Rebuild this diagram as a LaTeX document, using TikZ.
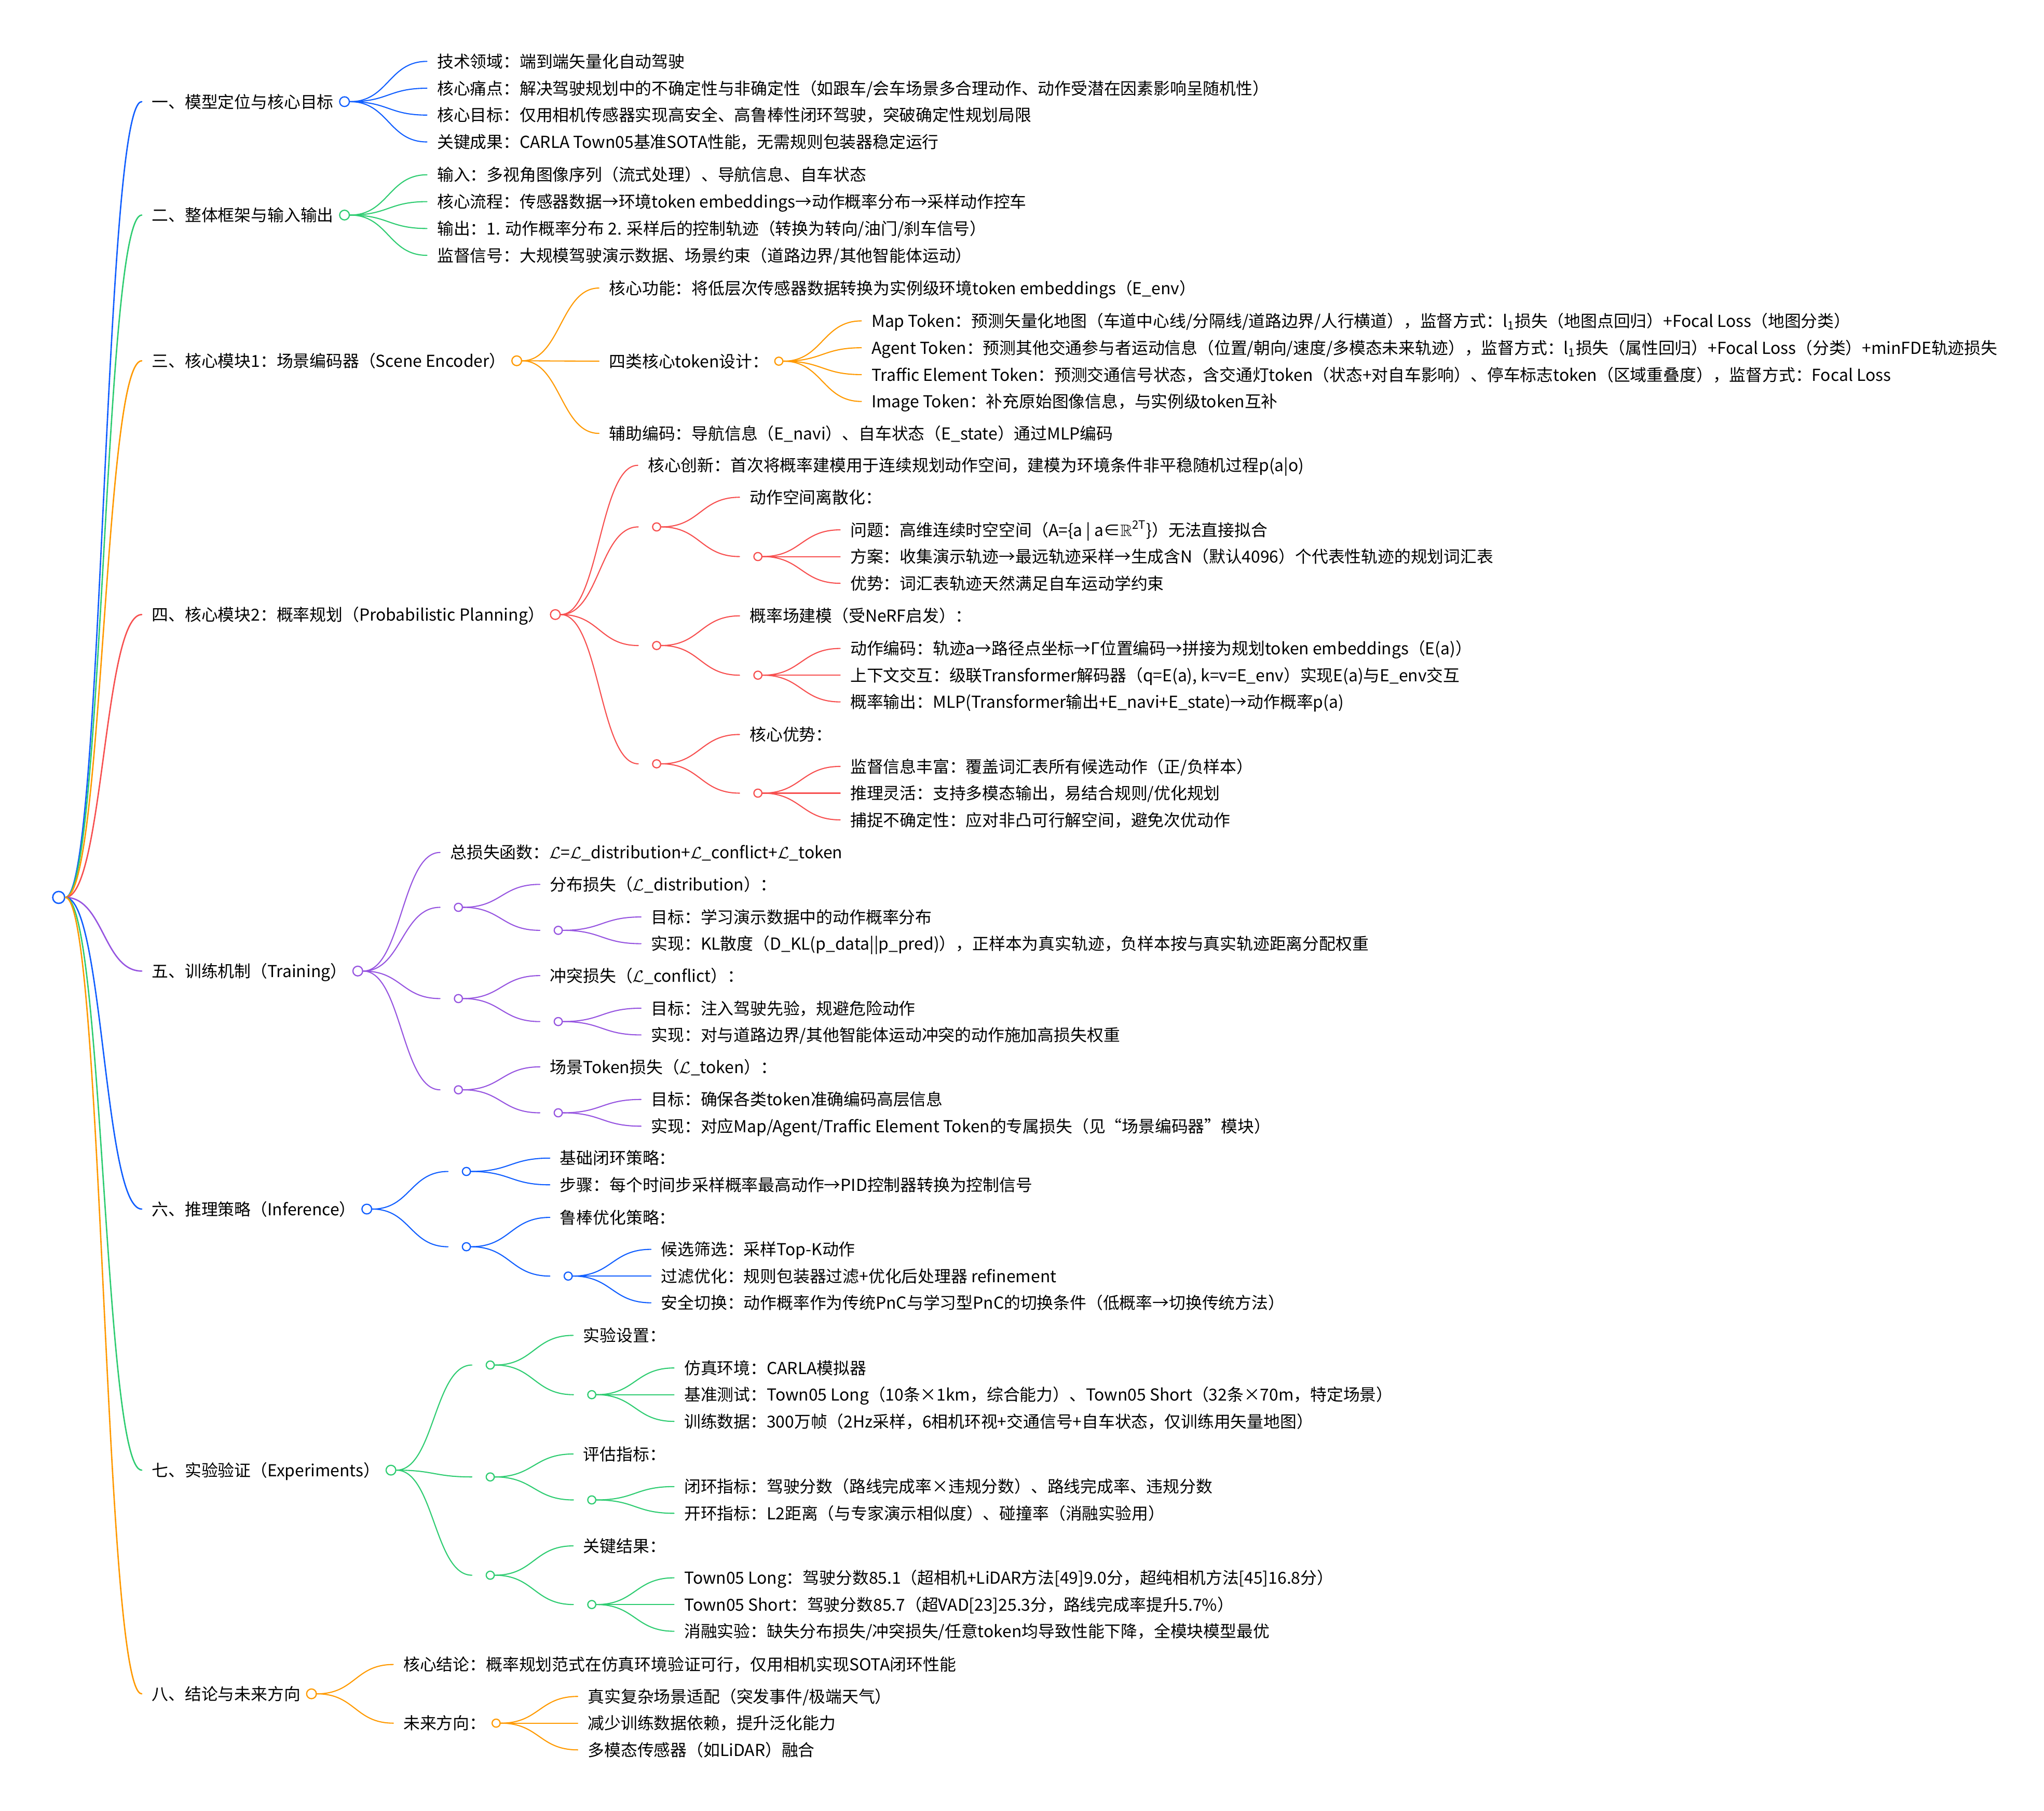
\documentclass[tikz,border=0pt]{standalone}
\usepackage{amssymb}
\usepackage{fontspec}
\setmainfont{Noto Sans CJK SC}
\usetikzlibrary{calc,positioning}

\definecolor{mmblue}{RGB}{16,94,255}
\definecolor{mmgreen}{RGB}{46,204,113}
\definecolor{mmorange}{RGB}{255,153,0}
\definecolor{mmred}{RGB}{247,79,79}
\definecolor{mmpurple}{RGB}{150,84,224}

\newcommand{\gapx}{0.189cm}
\newcommand{\mlink}[3][]{%
  \draw[edge,#1] let \p1=(#2.east), \p2=(#3), \n1={0.5*\x1+0.5*\x2} in
    (\p1) .. controls (\n1,\y1) and (\n1,\y2) .. (\p2);}

\tikzset{
  txt/.style={anchor=west, inner xsep=0pt, inner ysep=1pt, text height=8pt, text depth=1.1pt},
  hub/.style={circle, draw=#1, fill=white, line width=0.65pt, minimum size=0.155cm, inner sep=0pt},
  bighub/.style={hub=#1, minimum size=0.187cm},
  edge/.style={line width=0.6pt, line cap=round},
}

\begin{document}
\begin{tikzpicture}[x=0.02524cm, y=-0.02511cm, font=\fontsize{9.05}{11}\selectfont]

\useasboundingbox (0,0) rectangle (1560.2,1389.1);

\node[hub=mmblue, minimum size=0.23cm, line width=0.75pt] (root) at (44.8,688.5) {};

% sections
\node[txt] (s1) at (115.7,78) {一、模型定位与核心目标};
\node[bighub=mmblue, right=2.8pt of s1] (s1-dot) {};
\node[txt] (s2) at (115.7,165) {二、整体框架与输入输出};
\node[bighub=mmgreen, right=2.8pt of s2] (s2-dot) {};
\node[txt] (s3) at (115.7,276.8) {三、核心模块1：场景编码器（Scene Encoder）};
\node[bighub=mmorange, right=2.8pt of s3] (s3-dot) {};
\node[txt] (s4) at (115.7,471.5) {四、核心模块2：概率规划（Probabilistic Planning）};
\node[bighub=mmred, right=2.8pt of s4] (s4-dot) {};
\node[txt] (s5) at (115.7,745) {五、训练机制（Training）};
\node[bighub=mmpurple, right=2.8pt of s5] (s5-dot) {};
\node[txt] (s6) at (115.7,927.6) {六、推理策略（Inference）};
\node[bighub=mmblue, right=2.8pt of s6] (s6-dot) {};
\node[txt] (s7) at (115.7,1127.9) {七、实验验证（Experiments）};
\node[bighub=mmgreen, right=2.8pt of s7] (s7-dot) {};
\node[txt] (s8) at (115.7,1299.5) {八、结论与未来方向};
\node[bighub=mmorange, right=2.8pt of s8] (s8-dot) {};

\mlink[mmblue,line width=0.75pt]{root}{[xshift=-\gapx]s1.west}
\mlink[mmgreen,line width=0.75pt]{root}{[xshift=-\gapx]s2.west}
\mlink[mmorange,line width=0.75pt]{root}{[xshift=-\gapx]s3.west}
\mlink[mmred,line width=0.75pt]{root}{[xshift=-\gapx]s4.west}
\mlink[mmpurple,line width=0.75pt]{root}{[xshift=-\gapx]s5.west}
\mlink[mmblue,line width=0.75pt]{root}{[xshift=-\gapx]s6.west}
\mlink[mmgreen,line width=0.75pt]{root}{[xshift=-\gapx]s7.west}
\mlink[mmorange,line width=0.75pt]{root}{[xshift=-\gapx]s8.west}

% 一
\node[txt] (s1-1) at (333.4,47.1) {技术领域：端到端矢量化自动驾驶};
\node[txt] (s1-2) at (333.4,67.7) {核心痛点：解决驾驶规划中的不确定性与非确定性（如跟车/会车场景多合理动作、动作受潜在因素影响呈随机性）};
\node[txt] (s1-3) at (333.4,88.3) {核心目标：仅用相机传感器实现高安全、高鲁棒性闭环驾驶，突破确定性规划局限};
\node[txt] (s1-4) at (333.4,108.9) {关键成果：CARLA Town05基准SOTA性能，无需规则包装器稳定运行};
\foreach \k in {1,...,4} {\mlink[mmblue]{s1-dot}{[xshift=-\gapx]s1-\k.west}}

% 二
\node[txt] (s2-1) at (333.4,134.1) {输入：多视角图像序列（流式处理）、导航信息、自车状态};
\node[txt] (s2-2) at (333.4,154.7) {核心流程：传感器数据→环境token embeddings→动作概率分布→采样动作控车};
\node[txt] (s2-3) at (333.4,175.3) {输出：1. 动作概率分布 2. 采样后的控制轨迹（转换为转向/油门/刹车信号）};
\node[txt] (s2-4) at (333.4,195.9) {监督信号：大规模驾驶演示数据、场景约束（道路边界/其他智能体运动）};
\foreach \k in {1,...,4} {\mlink[mmgreen]{s2-dot}{[xshift=-\gapx]s2-\k.west}}

% 三
\node[txt] (s3-1) at (464.7,221) {核心功能：将低层次传感器数据转换为实例级环境token embeddings（E\_env）};
\node[txt] (s3-2) at (464.7,277.1) {四类核心token设计：};
\node[hub=mmorange, right=2.8pt of s3-2] (s3-2-dot) {};
\node[txt] (s3-3) at (464.7,332.5) {辅助编码：导航信息（E\_navi）、自车状态（E\_state）通过MLP编码};
\foreach \k in {1,...,3} {\mlink[mmorange]{s3-dot}{[xshift=-\gapx]s3-\k.west}}

\node[txt] (s3-2-1) at (665,246.2) {Map Token：预测矢量化地图（车道中心线/分隔线/道路边界/人行横道），监督方式：l\textsubscript{1}损失（地图点回归）+Focal Loss（地图分类）};
\node[txt] (s3-2-2) at (665,266.8) {Agent Token：预测其他交通参与者运动信息（位置/朝向/速度/多模态未来轨迹），监督方式：l\textsubscript{1}损失（属性回归）+Focal Loss（分类）+minFDE轨迹损失};
\node[txt] (s3-2-3) at (665,287.4) {Traffic Element Token：预测交通信号状态，含交通灯token（状态+对自车影响）、停车标志token（区域重叠度），监督方式：Focal Loss};
\node[txt] (s3-2-4) at (665,308) {Image Token：补充原始图像信息，与实例级token互补};
\foreach \k in {1,...,4} {\mlink[mmorange]{s3-2-dot}{[xshift=-\gapx]s3-2-\k.west}}

% 四
\node[txt] (s4-1) at (494.3,357) {核心创新：首次将概率建模用于连续规划动作空间，建模为环境条件非平稳随机过程p(a|o)};
\coordinate (s4-g1) at (487.2,404.25);
\node[hub=mmred] (s4-g1-dot) at (501.2,404.25) {};
\coordinate (s4-g2) at (487.2,495.25);
\node[hub=mmred] (s4-g2-dot) at (501.2,495.25) {};
\coordinate (s4-g3) at (487.2,586);
\node[hub=mmred] (s4-g3-dot) at (501.2,586) {};
\mlink[mmred]{s4-dot}{[xshift=-\gapx]s4-1.west}
\foreach \k in {1,2,3} {\mlink[mmred]{s4-dot}{s4-g\k}}

\node[txt] (s4-g1-1) at (572,381.5) {动作空间离散化：};
\coordinate (s4-g1-s) at (564.5,427);
\node[hub=mmred] (s4-g1-s-dot) at (578.5,427) {};
\node[txt] (s4-g1-s-1) at (648.8,406.5) {问题：高维连续时空空间（A=\{a | a∈$\mathbb{R}$\textsuperscript{2T}\}）无法直接拟合};
\node[txt] (s4-g1-s-2) at (648.8,427) {方案：收集演示轨迹→最远轨迹采样→生成含N（默认4096）个代表性轨迹的规划词汇表};
\node[txt] (s4-g1-s-3) at (648.8,447.5) {优势：词汇表轨迹天然满足自车运动学约束};

\node[txt] (s4-g2-1) at (572,472.5) {概率场建模（受NeRF启发）：};
\coordinate (s4-g2-s) at (564.5,518);
\node[hub=mmred] (s4-g2-s-dot) at (578.5,518) {};
\node[txt] (s4-g2-s-1) at (648.8,497.5) {动作编码：轨迹a→路径点坐标→Γ位置编码→拼接为规划token embeddings（E(a)）};
\node[txt] (s4-g2-s-2) at (648.8,518) {上下文交互：级联Transformer解码器（q=E(a), k=v=E\_env）实现E(a)与E\_env交互};
\node[txt] (s4-g2-s-3) at (648.8,538.5) {概率输出：MLP(Transformer输出+E\_navi+E\_state)→动作概率p(a)};

\node[txt] (s4-g3-1) at (572,563.5) {核心优势：};
\coordinate (s4-g3-s) at (564.5,608.5);
\node[hub=mmred] (s4-g3-s-dot) at (578.5,608.5) {};
\node[txt] (s4-g3-s-1) at (648.8,588) {监督信息丰富：覆盖词汇表所有候选动作（正/负样本）};
\node[txt] (s4-g3-s-2) at (648.8,608.5) {推理灵活：支持多模态输出，易结合规则/优化规划};
\node[txt] (s4-g3-s-3) at (648.8,629) {捕捉不确定性：应对非凸可行解空间，避免次优动作};

\foreach \g in {1,2,3} {
  \mlink[mmred]{s4-g\g-dot}{[xshift=-\gapx]s4-g\g-1.west}
  \mlink[mmred]{s4-g\g-dot}{s4-g\g-s}
  \foreach \k in {1,2,3} {\mlink[mmred]{s4-g\g-s-dot}{[xshift=-\gapx]s4-g\g-s-\k.west}}
}

% 五
\node[txt] (s5-1) at (343.4,654) {总损失函数：$\mathcal{L}$=$\mathcal{L}$\_distribution+$\mathcal{L}$\_conflict+$\mathcal{L}$\_token};
\coordinate (s5-g1) at (335.9,696.1);
\node[hub=mmpurple] (s5-g1-dot) at (349.9,696.1) {};
\coordinate (s5-g2) at (335.9,766.1);
\node[hub=mmpurple] (s5-g2-dot) at (349.9,766.1) {};
\coordinate (s5-g3) at (335.9,836.1);
\node[hub=mmpurple] (s5-g3-dot) at (349.9,836.1) {};
\mlink[mmpurple]{s5-dot}{[xshift=-\gapx]s5-1.west}
\foreach \k in {1,2,3} {\mlink[mmpurple]{s5-dot}{s5-g\k}}

\node[txt] (s5-g1-1) at (419.6,678.5) {分布损失（$\mathcal{L}$\_distribution）：};
\coordinate (s5-g1-s) at (412.1,713.75);
\node[hub=mmpurple] (s5-g1-s-dot) at (426.1,713.75) {};
\node[txt] (s5-g1-s-1) at (496.8,703.5) {目标：学习演示数据中的动作概率分布};
\node[txt] (s5-g1-s-2) at (496.8,724) {实现：KL散度（D\_KL(p\_data||p\_pred)），正样本为真实轨迹，负样本按与真实轨迹距离分配权重};

\node[txt] (s5-g2-1) at (419.6,748.5) {冲突损失（$\mathcal{L}$\_conflict）：};
\coordinate (s5-g2-s) at (412.1,783.75);
\node[hub=mmpurple] (s5-g2-s-dot) at (426.1,783.75) {};
\node[txt] (s5-g2-s-1) at (496.8,773.5) {目标：注入驾驶先验，规避危险动作};
\node[txt] (s5-g2-s-2) at (496.8,794) {实现：对与道路边界/其他智能体运动冲突的动作施加高损失权重};

\node[txt] (s5-g3-1) at (419.6,818.5) {场景Token损失（$\mathcal{L}$\_token）：};
\coordinate (s5-g3-s) at (412.1,853.75);
\node[hub=mmpurple] (s5-g3-s-dot) at (426.1,853.75) {};
\node[txt] (s5-g3-s-1) at (496.8,843.5) {目标：确保各类token准确编码高层信息};
\node[txt] (s5-g3-s-2) at (496.8,864) {实现：对应Map/Agent/Traffic Element Token的专属损失（见“场景编码器”模块）};

\foreach \g in {1,2,3} {
  \mlink[mmpurple]{s5-g\g-dot}{[xshift=-\gapx]s5-g\g-1.west}
  \mlink[mmpurple]{s5-g\g-dot}{s5-g\g-s}
  \foreach \k in {1,2} {\mlink[mmpurple]{s5-g\g-s-dot}{[xshift=-\gapx]s5-g\g-s-\k.west}}
}

% 六
\coordinate (s6-g1) at (342,898.75);
\node[hub=mmblue] (s6-g1-dot) at (356,898.75) {};
\coordinate (s6-g2) at (342,956.5);
\node[hub=mmblue] (s6-g2-dot) at (356,956.5) {};
\foreach \k in {1,2} {\mlink[mmblue]{s6-dot}{s6-g\k}}

\node[txt] (s6-g1-1) at (427.2,888.5) {基础闭环策略：};
\node[txt] (s6-g1-2) at (427.2,909) {步骤：每个时间步采样概率最高动作→PID控制器转换为控制信号};
\foreach \k in {1,2} {\mlink[mmblue]{s6-g1-dot}{[xshift=-\gapx]s6-g1-\k.west}}

\node[txt] (s6-g2-1) at (427.2,934) {鲁棒优化策略：};
\coordinate (s6-g2-s) at (419.7,979);
\node[hub=mmblue] (s6-g2-s-dot) at (433.7,979) {};
\node[txt] (s6-g2-s-1) at (504.4,958.5) {候选筛选：采样Top-K动作};
\node[txt] (s6-g2-s-2) at (504.4,979) {过滤优化：规则包装器过滤+优化后处理器 refinement};
\node[txt] (s6-g2-s-3) at (504.4,999.5) {安全切换：动作概率作为传统PnC与学习型PnC的切换条件（低概率→切换传统方法）};
\mlink[mmblue]{s6-g2-dot}{[xshift=-\gapx]s6-g2-1.west}
\mlink[mmblue]{s6-g2-dot}{s6-g2-s}
\foreach \k in {1,2,3} {\mlink[mmblue]{s6-g2-s-dot}{[xshift=-\gapx]s6-g2-s-\k.west}}

% 七
\coordinate (s7-g1) at (360.2,1047.25);
\node[hub=mmgreen] (s7-g1-dot) at (374.2,1047.25) {};
\coordinate (s7-g2) at (360.2,1133.1);
\node[hub=mmgreen] (s7-g2-dot) at (374.2,1133.1) {};
\coordinate (s7-g3) at (360.2,1208.5);
\node[hub=mmgreen] (s7-g3-dot) at (374.2,1208.5) {};
\foreach \k in {1,2,3} {\mlink[mmgreen]{s7-dot}{s7-g\k}}

\node[txt] (s7-g1-1) at (445,1024.5) {实验设置：};
\coordinate (s7-g1-s) at (437.7,1070);
\node[hub=mmgreen] (s7-g1-s-dot) at (451.7,1070) {};
\node[txt] (s7-g1-s-1) at (522,1049.5) {仿真环境：CARLA模拟器};
\node[txt] (s7-g1-s-2) at (522,1070) {基准测试：Town05 Long（10条×1km，综合能力）、Town05 Short（32条×70m，特定场景）};
\node[txt] (s7-g1-s-3) at (522,1090.5) {训练数据：300万帧（2Hz采样，6相机环视+交通信号+自车状态，仅训练用矢量地图）};

\node[txt] (s7-g2-1) at (445,1115.5) {评估指标：};
\coordinate (s7-g2-s) at (437.7,1150.75);
\node[hub=mmgreen] (s7-g2-s-dot) at (451.7,1150.75) {};
\node[txt] (s7-g2-s-1) at (522,1140.5) {闭环指标：驾驶分数（路线完成率×违规分数）、路线完成率、违规分数};
\node[txt] (s7-g2-s-2) at (522,1161) {开环指标：L2距离（与专家演示相似度）、碰撞率（消融实验用）};

\node[txt] (s7-g3-1) at (445,1186) {关键结果：};
\coordinate (s7-g3-s) at (437.7,1231);
\node[hub=mmgreen] (s7-g3-s-dot) at (451.7,1231) {};
\node[txt] (s7-g3-s-1) at (522,1210.5) {Town05 Long：驾驶分数85.1（超相机+LiDAR方法[49]9.0分，超纯相机方法[45]16.8分）};
\node[txt] (s7-g3-s-2) at (522,1231) {Town05 Short：驾驶分数85.7（超VAD[23]25.3分，路线完成率提升5.7\%）};
\node[txt] (s7-g3-s-3) at (522,1251.5) {消融实验：缺失分布损失/冲突损失/任意token均导致性能下降，全模块模型最优};

\foreach \g in {1,2,3} {
  \mlink[mmgreen]{s7-g\g-dot}{[xshift=-\gapx]s7-g\g-1.west}
  \mlink[mmgreen]{s7-g\g-dot}{s7-g\g-s}
}
\foreach \k in {1,2,3} {\mlink[mmgreen]{s7-g1-s-dot}{[xshift=-\gapx]s7-g1-s-\k.west}}
\foreach \k in {1,2} {\mlink[mmgreen]{s7-g2-s-dot}{[xshift=-\gapx]s7-g2-s-\k.west}}
\foreach \k in {1,2,3} {\mlink[mmgreen]{s7-g3-s-dot}{[xshift=-\gapx]s7-g3-s-\k.west}}

% 八
\node[txt] (s8-1) at (307.7,1277) {核心结论：概率规划范式在仿真环境验证可行，仅用相机实现SOTA闭环性能};
\node[txt] (s8-2) at (307.7,1322) {未来方向：};
\node[hub=mmorange, right=2.8pt of s8-2] (s8-2-dot) {};
\foreach \k in {1,2} {\mlink[mmorange]{s8-dot}{[xshift=-\gapx]s8-\k.west}}

\node[txt] (s8-2-1) at (448.5,1301.5) {真实复杂场景适配（突发事件/极端天气）};
\node[txt] (s8-2-2) at (448.5,1322) {减少训练数据依赖，提升泛化能力};
\node[txt] (s8-2-3) at (448.5,1342.5) {多模态传感器（如LiDAR）融合};
\foreach \k in {1,2,3} {\mlink[mmorange]{s8-2-dot}{[xshift=-\gapx]s8-2-\k.west}}

\end{tikzpicture}
\end{document}
